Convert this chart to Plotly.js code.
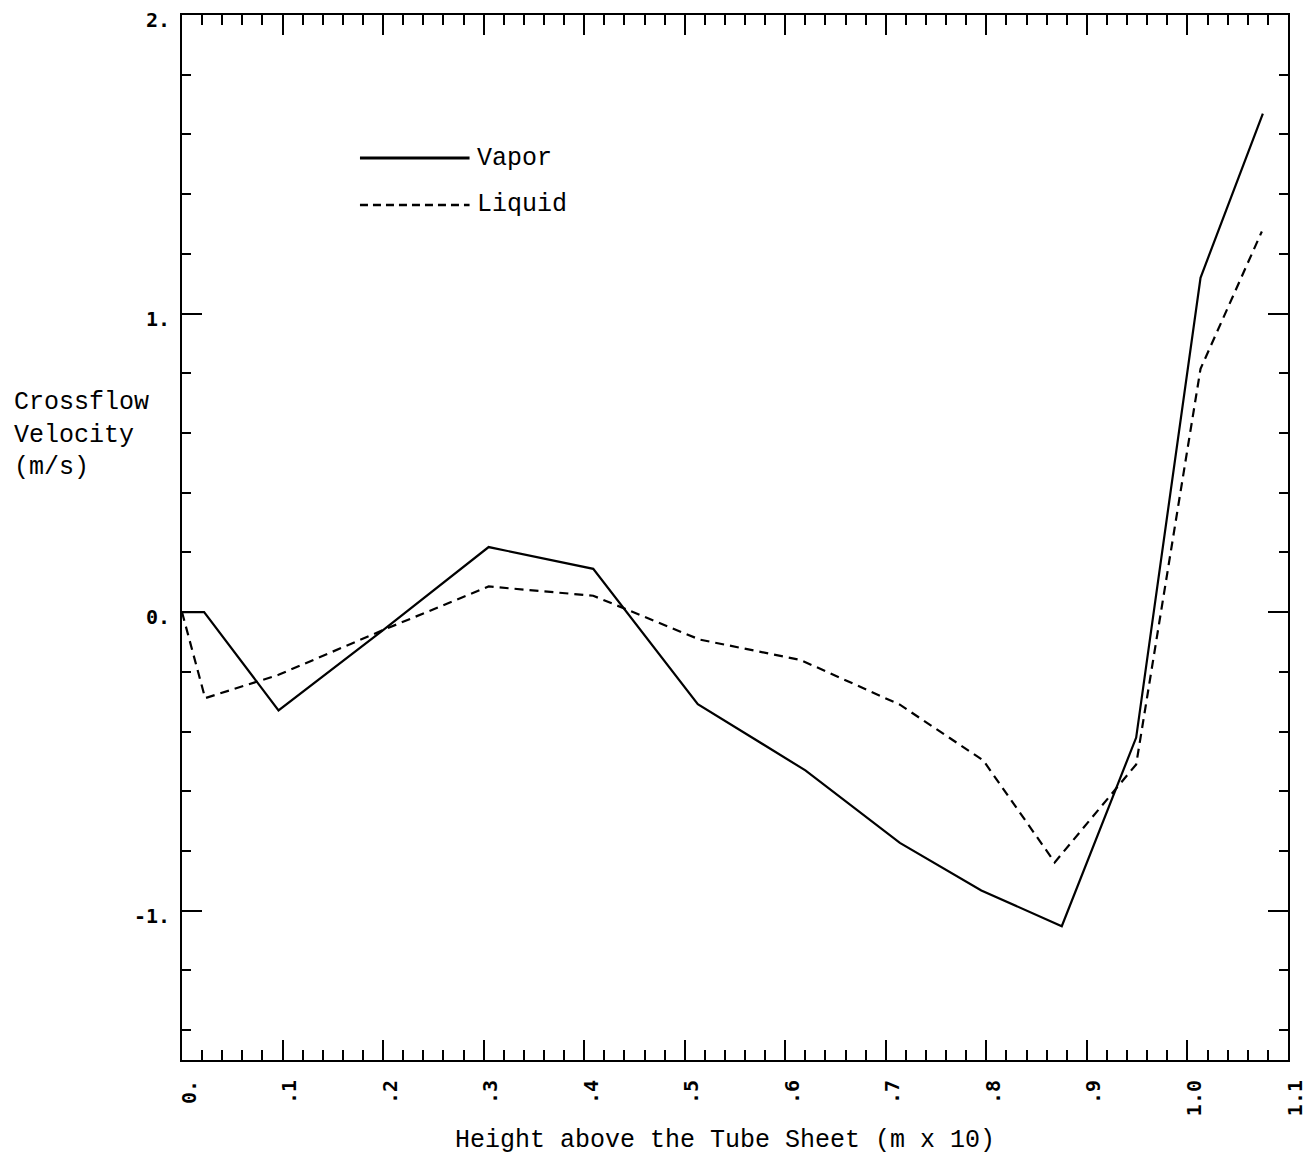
<!DOCTYPE html>
<html>
<head>
<meta charset="utf-8">
<script src="https://cdn.plot.ly/plotly-3.0.1.min.js"></script>
<style>
  html, body { margin: 0; padding: 0; background: #fff; }
  #chart { width: 1310px; height: 1162px; }
</style>
</head>
<body>
<div id="chart"></div>
<script>
// Data
const heightVapor  = [0, 0.022, 0.096, 0.2, 0.305, 0.409, 0.513, 0.62, 0.714, 0.795, 0.875, 0.949, 1.013, 1.075];
const vaporVel     = [0, 0, -0.329, -0.06, 0.218, 0.145, -0.308, -0.53, -0.773, -0.932, -1.052, -0.42, 1.12, 1.67];
const heightLiquid = [0, 0.023, 0.096, 0.2, 0.305, 0.409, 0.515, 0.615, 0.714, 0.797, 0.868, 0.949, 1.013, 1.074];
const liquidVel    = [0, -0.288, -0.21, -0.06, 0.086, 0.055, -0.092, -0.16, -0.31, -0.497, -0.838, -0.51, 0.815, 1.275];

const xTickVals = [0, 0.1, 0.2, 0.3, 0.4, 0.5, 0.6, 0.7, 0.8, 0.9, 1.0, 1.1];
const xTickText = ["0.", ".1", ".2", ".3", ".4", ".5", ".6", ".7", ".8", ".9", "1.0", "1.1"];
const yTickVals = [-1, 0, 1, 2];
const yTickText = ["-1.", "0.", "1.", "2."];

const seriesNames = ["Vapor", "Liquid"];
const xTitle = "Height above the Tube Sheet (m x 10)";
const yTitle = "Crossflow<br>Velocity<br>(m/s)";

const typeFont = "Liberation Mono, Courier New, monospace";
const tickFont = {family: "DejaVu Sans Mono, monospace", size: 20, color: "#000", weight: "bold"};

const traces = [
  {x: heightVapor, y: vaporVel, type: "scatter", mode: "lines", name: seriesNames[0],
   line: {color: "#000", width: 2.2}, showlegend: false, hoverinfo: "skip"},
  {x: heightLiquid, y: liquidVel, type: "scatter", mode: "lines", name: seriesNames[1],
   line: {color: "#000", width: 2.2, dash: "9px,6px"}, showlegend: false, hoverinfo: "skip"}
];

const layout = {
  width: 1310, height: 1162,
  margin: {l: 182, r: 22, t: 15, b: 102},
  paper_bgcolor: "#fff", plot_bgcolor: "#fff",
  showlegend: false,
  xaxis: {
    range: [0, 1.1], showgrid: false, zeroline: false,
    showline: true, linecolor: "#000", linewidth: 2, mirror: "ticks",
    ticks: "inside", ticklen: 20, tickwidth: 2, tickcolor: "#000",
    tickmode: "array", tickvals: xTickVals, ticktext: xTickText,
    tickangle: -90, tickfont: tickFont, ticklabelshift: 7, ticklabelstandoff: 10,
    minor: {dtick: 0.02, tick0: 0, ticks: "inside", ticklen: 10, tickwidth: 2, tickcolor: "#000", showgrid: false}
  },
  yaxis: {
    range: [-1.5, 2], showgrid: false, zeroline: false,
    showline: true, linecolor: "#000", linewidth: 2, mirror: "ticks",
    ticks: "inside", ticklen: 20, tickwidth: 2, tickcolor: "#000",
    tickmode: "array", tickvals: yTickVals, ticktext: yTickText,
    tickfont: tickFont, ticklabelshift: 5, ticklabelstandoff: 6,
    minor: {dtick: 0.2, tick0: 0, ticks: "inside", ticklen: 9, tickwidth: 2, tickcolor: "#000", showgrid: false}
  },
  shapes: [
    {type: "line", xref: "x", yref: "y", x0: 0.177, x1: 0.286, y0: 1.521, y1: 1.521,
     line: {color: "#000", width: 3}},
    {type: "line", xref: "x", yref: "y", x0: 0.177, x1: 0.286, y0: 1.364, y1: 1.364,
     line: {color: "#000", width: 2.5, dash: "8px,5px"}}
  ],
  annotations: [
    {xref: "x", yref: "y", x: 0.291, y: 1.521, xanchor: "left", yanchor: "middle",
     text: seriesNames[0], showarrow: false, font: {family: typeFont, size: 25, color: "#000"}},
    {xref: "x", yref: "y", x: 0.291, y: 1.364, xanchor: "left", yanchor: "middle",
     text: seriesNames[1], showarrow: false, font: {family: typeFont, size: 25, color: "#000"}},
    {xref: "paper", yref: "paper", x: -0.1537, y: 0.645, xanchor: "left", yanchor: "top", align: "left",
     text: yTitle, showarrow: false, font: {family: typeFont, size: 25, color: "#000"}},
    {xref: "paper", yref: "paper", x: 0.491, y: -0.0775, xanchor: "center", yanchor: "middle",
     text: xTitle, showarrow: false, font: {family: typeFont, size: 25, color: "#000"}}
  ]
};

Plotly.newPlot("chart", traces, layout, {staticPlot: true, displayModeBar: false});
</script>
</body>
</html>
